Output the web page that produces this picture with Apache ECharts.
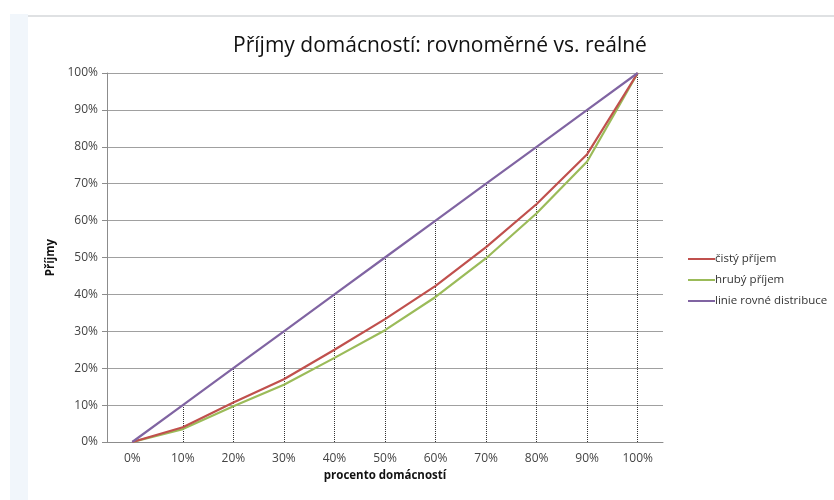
<!DOCTYPE html>
<html>
<head>
<meta charset="utf-8">
<script src="https://cdn.jsdelivr.net/npm/echarts@6/dist/echarts.min.js"></script>
<style>
  html, body { margin: 0; padding: 0; background: #fff; }
  #chart { width: 834px; height: 500px; }
</style>
</head>
<body>
<div id="chart"></div>
<script>
// kategorie na ose x (procento domácností)
var categories = ['0%', '10%', '20%', '30%', '40%', '50%', '60%', '70%', '80%', '90%', '100%'];
// hodnoty v procentech
var cistyPrijem = [0, 4, 10.7, 17, 25, 33.3, 42.3, 52.8, 64.5, 78, 100];
var hrubyPrijem = [0, 3.5, 9.7, 15.5, 22.8, 30.3, 39.3, 49.8, 62, 76, 100];
var rovnaDistribuce = [0, 10, 20, 30, 40, 50, 60, 70, 80, 90, 100];

var fontFam = '"Open Sans", "Noto Sans", sans-serif';

// svislé tečkované čáry od osy x k lince rovné distribuce
var dropLines = [];
for (var i = 0; i < categories.length; i++) {
    dropLines.push([
        { coord: [categories[i], 0] },
        { coord: [categories[i], rovnaDistribuce[i]] }
    ]);
}

var myChart = echarts.init(document.getElementById('chart'));
var option = {
    backgroundColor: '#fff',
    animation: false,
    title: {
        text: 'Příjmy domácností: rovnoměrné vs. reálné',
        left: 435,
        textAlign: 'center',
        top: 31,
        textStyle: { fontFamily: fontFam, fontSize: 21, fontWeight: 'normal', color: '#111' }
    },
    graphic: [
        { type: 'rect', shape: { x: 10, y: 14, width: 18, height: 486 }, style: { fill: '#f1f6fb' }, silent: true },
        { type: 'line', shape: { x1: 28, y1: 16, x2: 834, y2: 16 }, style: { stroke: '#d4d7da', lineWidth: 1.5 }, silent: true }
    ],
    legend: {
        orient: 'vertical',
        left: 683,
        top: 248,
        itemWidth: 27,
        itemHeight: 2,
        itemGap: 9,
        icon: 'rect',
        textStyle: { fontFamily: fontFam, fontSize: 11.5, color: '#333', padding: [0, 0, 0, -5] },
        data: ['čistý příjem', 'hrubý příjem', 'linie rovné distribuce']
    },
    grid: { left: 107, right: 171, top: 73, bottom: 58 },
    xAxis: {
        type: 'category',
        data: categories,
        boundaryGap: true,
        name: 'procento domácností',
        nameLocation: 'middle',
        nameGap: 21,
        nameTextStyle: { fontFamily: fontFam, fontSize: 11.5, fontWeight: 'bold', color: '#111' },
        axisLine: { lineStyle: { color: '#8c8c8c', width: 1 } },
        axisTick: { show: false },
        axisLabel: { fontFamily: fontFam, fontSize: 12, color: '#444', margin: 11 },
        splitLine: { show: false }
    },
    yAxis: {
        type: 'value',
        min: 0,
        max: 100,
        interval: 10,
        name: 'Příjmy',
        nameLocation: 'middle',
        nameGap: 44,
        nameTextStyle: { fontFamily: fontFam, fontSize: 11.5, fontWeight: 'bold', color: '#111' },
        axisLine: { show: true, lineStyle: { color: '#8c8c8c', width: 1 } },
        axisTick: { show: true, length: 5, lineStyle: { color: '#8c8c8c' } },
        axisLabel: { fontFamily: fontFam, fontSize: 12, color: '#444', margin: 9, formatter: '{value}%' },
        splitLine: { lineStyle: { color: '#a0a0a0', width: 1 } }
    },
    series: [
        {
            name: 'čistý příjem',
            type: 'line',
            data: cistyPrijem,
            symbol: 'none',
            color: '#c0504d',
            lineStyle: { width: 2.2 },
            z: 4
        },
        {
            name: 'hrubý příjem',
            type: 'line',
            data: hrubyPrijem,
            symbol: 'none',
            color: '#9bbb59',
            lineStyle: { width: 2.2 },
            z: 3
        },
        {
            name: 'linie rovné distribuce',
            type: 'line',
            data: rovnaDistribuce,
            symbol: 'none',
            color: '#8064a2',
            lineStyle: { width: 2.2 },
            z: 5,
            markLine: {
                silent: true,
                symbol: 'none',
                label: { show: false },
                lineStyle: { type: 'dotted', color: '#333', width: 1 },
                data: dropLines,
                z: 1
            }
        }
    ]
};
myChart.setOption(option);
</script>
</body>
</html>
